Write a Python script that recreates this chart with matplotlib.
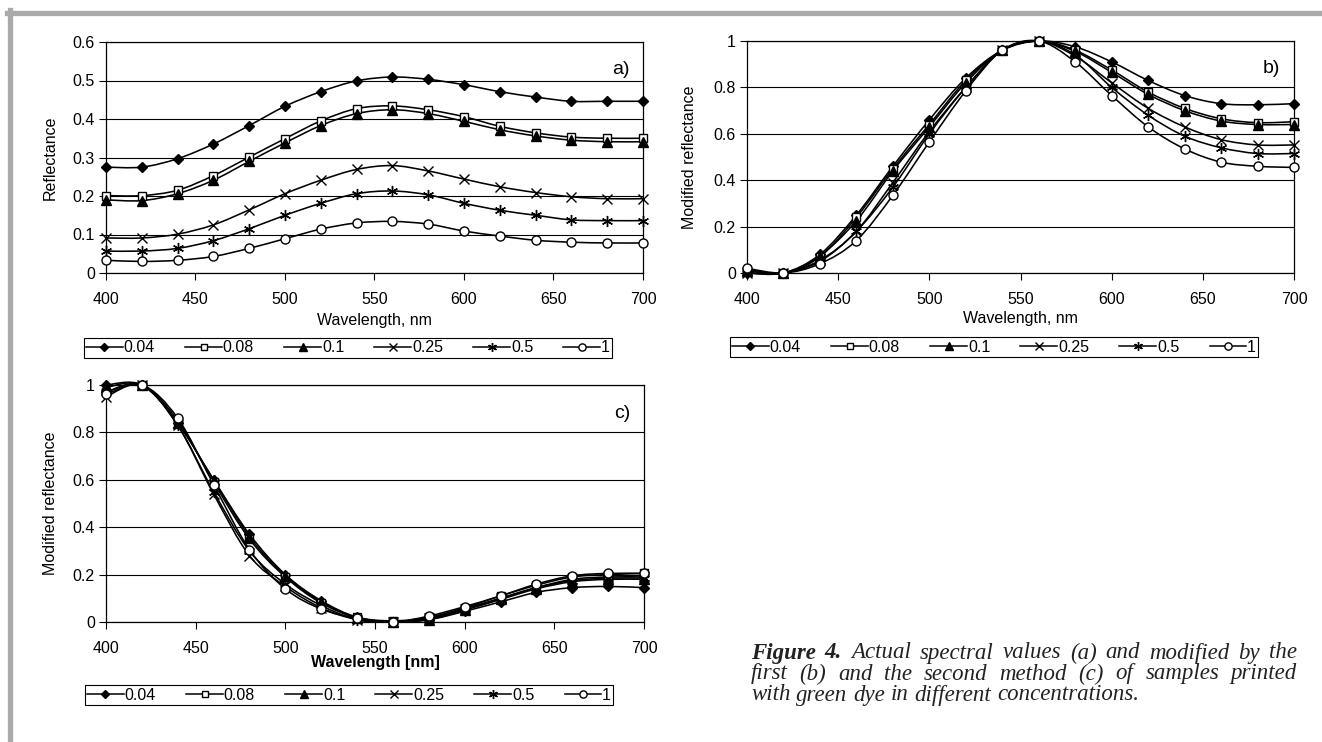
import matplotlib
matplotlib.use("Agg")
import matplotlib.pyplot as plt
from matplotlib.path import Path
from matplotlib.patches import PathPatch
from matplotlib.lines import Line2D
import numpy as np

plt.rcParams['font.family'] = ['Liberation Sans', 'DejaVu Sans']

# ---------------- data ----------------
wavelength = [400, 420, 440, 460, 480, 500, 520, 540, 560, 580, 600, 620, 640, 660, 680, 700]
concentrations = ['0.04', '0.08', '0.1', '0.25', '0.5', '1']

# (a) actual reflectance
a_004 = [0.275, 0.275, 0.297, 0.335, 0.383, 0.433, 0.471, 0.499, 0.509, 0.503, 0.489, 0.471, 0.457, 0.446, 0.446, 0.446]
a_008 = [0.201, 0.201, 0.215, 0.253, 0.301, 0.349, 0.395, 0.427, 0.434, 0.424, 0.406, 0.381, 0.364, 0.353, 0.350, 0.350]
a_01  = [0.190, 0.188, 0.206, 0.241, 0.290, 0.338, 0.383, 0.414, 0.424, 0.414, 0.394, 0.372, 0.356, 0.345, 0.341, 0.341]
a_025 = [0.091, 0.091, 0.101, 0.125, 0.164, 0.206, 0.241, 0.269, 0.279, 0.265, 0.244, 0.224, 0.209, 0.198, 0.193, 0.193]
a_05  = [0.057, 0.057, 0.064, 0.084, 0.115, 0.150, 0.181, 0.206, 0.213, 0.203, 0.181, 0.163, 0.150, 0.138, 0.136, 0.136]
a_1   = [0.033, 0.030, 0.033, 0.043, 0.064, 0.089, 0.114, 0.130, 0.134, 0.127, 0.109, 0.096, 0.085, 0.080, 0.078, 0.078]

# (b) modified reflectance, first method
b_004 = [0.00, 0.00, 0.080, 0.250, 0.460, 0.660, 0.840, 0.960, 1.00, 0.975, 0.910, 0.830, 0.765, 0.730, 0.725, 0.730]
b_008 = [0.015, 0.00, 0.070, 0.240, 0.450, 0.640, 0.830, 0.960, 1.00, 0.960, 0.875, 0.780, 0.710, 0.665, 0.648, 0.652]
b_01  = [0.010, 0.00, 0.075, 0.225, 0.440, 0.630, 0.820, 0.960, 1.00, 0.955, 0.865, 0.770, 0.700, 0.655, 0.640, 0.640]
b_025 = [0.00, 0.00, 0.055, 0.180, 0.390, 0.610, 0.800, 0.960, 1.00, 0.935, 0.820, 0.710, 0.630, 0.575, 0.552, 0.552]
b_05  = [0.00, 0.00, 0.050, 0.180, 0.370, 0.600, 0.800, 0.960, 1.00, 0.940, 0.800, 0.680, 0.590, 0.540, 0.515, 0.515]
b_1   = [0.020, 0.00, 0.040, 0.140, 0.335, 0.565, 0.785, 0.960, 1.00, 0.910, 0.765, 0.630, 0.535, 0.478, 0.460, 0.455]

# (c) modified reflectance, second method
c_004 = [1.00, 1.00, 0.840, 0.600, 0.370, 0.200, 0.090, 0.020, 0.000, 0.010, 0.045, 0.085, 0.125, 0.145, 0.150, 0.145]
c_008 = [0.970, 1.00, 0.850, 0.590, 0.350, 0.190, 0.080, 0.020, 0.005, 0.020, 0.060, 0.110, 0.155, 0.190, 0.200, 0.205]
c_01  = [0.990, 1.00, 0.840, 0.600, 0.360, 0.195, 0.085, 0.015, 0.000, 0.010, 0.050, 0.095, 0.140, 0.170, 0.180, 0.180]
c_025 = [0.950, 1.00, 0.830, 0.540, 0.280, 0.150, 0.060, 0.010, 0.000, 0.015, 0.055, 0.100, 0.145, 0.180, 0.190, 0.190]
c_05  = [0.970, 1.00, 0.830, 0.550, 0.300, 0.160, 0.070, 0.010, 0.000, 0.015, 0.055, 0.100, 0.145, 0.175, 0.185, 0.185]
c_1   = [0.960, 1.00, 0.860, 0.580, 0.305, 0.140, 0.055, 0.015, 0.000, 0.025, 0.065, 0.110, 0.160, 0.195, 0.205, 0.205]

series_a = [a_004, a_008, a_01, a_025, a_05, a_1]
series_b = [b_004, b_008, b_01, b_025, b_05, b_1]
series_c = [c_004, c_008, c_01, c_025, c_05, c_1]

xticks = [400, 450, 500, 550, 600, 650, 700]
yticks_a = [0, 0.1, 0.2, 0.3, 0.4, 0.5, 0.6]
yticks_a_labels = ['0', '0.1', '0.2', '0.3', '0.4', '0.5', '0.6']
yticks_bc = [0, 0.2, 0.4, 0.6, 0.8, 1.0]
yticks_bc_labels = ['0', '0.2', '0.4', '0.6', '0.8', '1']

# ---------------- styles ----------------
marker_styles = [
    dict(marker='D', mfc='black', ms=5.5),
    dict(marker='s', mfc='white', ms=5.5),
    dict(marker='^', mfc='black', ms=6.5),
    dict(marker='x', mfc='black', ms=6.5),
    dict(marker=(6, 2, 0), mfc='black', ms=8.0),
    dict(marker='o', mfc='white', ms=6.5),
]

W, H = 1322, 742
fig = plt.figure(figsize=(W / 100, H / 100), dpi=100)
fig.patch.set_facecolor('white')


def fx(px):
    return px / W


def fy(py):
    return 1 - py / H


def smooth_path(x, y):
    pts = np.column_stack([x, y]).astype(float)
    n = len(pts)
    verts = [pts[0]]
    codes = [Path.MOVETO]
    for i in range(n - 1):
        p0 = pts[i - 1] if i > 0 else pts[i]
        p1 = pts[i]
        p2 = pts[i + 1]
        p3 = pts[i + 2] if i + 2 < n else pts[i + 1]
        c1 = p1 + (p2 - p0) / 6.0
        c2 = p2 - (p3 - p1) / 6.0
        verts += [c1, c2, p2]
        codes += [Path.CURVE4] * 3
    return Path(verts, codes)


TICK_FS = 11.5


def make_panel(rect_px, series, yticks, ylabels, ymax, ylabel, xlabel, xlabel_bold, tag):
    left, top, right, bottom = rect_px
    ax = fig.add_axes([fx(left), fy(bottom), (right - left) / W, (bottom - top) / H])
    ax.set_xlim(400, 700)
    ax.set_ylim(0, ymax)
    ax.set_xticks(xticks)
    ax.set_xticklabels([str(t) for t in xticks], fontsize=TICK_FS)
    ax.set_yticks(yticks)
    ax.set_yticklabels(ylabels, fontsize=TICK_FS)
    ax.tick_params(axis='x', direction='out', length=5, width=0.8, pad=9)
    ax.tick_params(axis='y', direction='out', length=5, width=0.8, pad=3)
    for s in ax.spines.values():
        s.set_linewidth(0.9)
        s.set_color('black')
    ax.yaxis.grid(True, color='black', linewidth=0.8)
    ax.set_axisbelow(True)
    for ys, st in zip(series, marker_styles):
        patch = PathPatch(smooth_path(wavelength, ys), fill=False, edgecolor='black',
                          linewidth=1.15, clip_on=False, zorder=3)
        ax.add_patch(patch)
        ax.plot(wavelength, ys, linestyle='none', color='black', mec='black', mew=1.0,
                clip_on=False, zorder=4, **st)
    ax.set_xlabel(xlabel, fontsize=TICK_FS, fontweight='bold' if xlabel_bold else 'normal')
    ax.set_ylabel(ylabel, fontsize=TICK_FS)
    ax.text(0.975, 0.88, tag, transform=ax.transAxes, fontsize=14, ha='right', va='center')
    return ax


rects = [(106, 42, 643, 273), (747, 41, 1294, 273), (106, 385, 644, 622)]
ax_a = make_panel(rects[0], series_a, yticks_a, yticks_a_labels, 0.6,
                  'Reflectance', 'Wavelength, nm', False, 'a)')
ax_b = make_panel(rects[1], series_b, yticks_bc, yticks_bc_labels, 1.0,
                  'Modified reflectance', 'Wavelength, nm', False, 'b)')
ax_c = make_panel(rects[2], series_c, yticks_bc, yticks_bc_labels, 1.0,
                  'Modified reflectance', 'Wavelength [nm]', True, 'c)')

# axis label positions (pixel based)
for ax, (left, top, right, bottom), xl_y, yl_x in [
        (ax_a, rects[0], 320, 50),
        (ax_b, rects[1], 318, 690),
        (ax_c, rects[2], 663, 50)]:
    ax.xaxis.label.set_va('center')
    ax.xaxis.set_label_coords(0.5, (bottom - xl_y) / (bottom - top))
    ax.yaxis.label.set_va('center')
    ax.yaxis.set_label_coords((yl_x - left) / (right - left), 0.5)

# legends (legend markers are drawn smaller, as in the original)
leg_styles = []
for st in marker_styles:
    d = dict(st)
    d['ms'] = st['ms'] * 0.8
    leg_styles.append(d)
handles = [Line2D([], [], color='black', lw=1.1, mec='black', mew=1.0, **st) for st in leg_styles]
for cx, cy in [(348, 348), (994, 347), (349, 695)]:
    leg = fig.legend(handles, concentrations, loc='center', bbox_to_anchor=(fx(cx), fy(cy)),
                     ncol=6, frameon=True, fancybox=False, edgecolor='black', framealpha=1,
                     fontsize=TICK_FS, handlelength=2.3, handletextpad=0.05, columnspacing=1.9,
                     borderpad=0.15, borderaxespad=0)
    leg.get_frame().set_linewidth(0.8)

# grey page border
fig.add_artist(Line2D([fx(7), fx(W)], [fy(12.5), fy(12.5)], color='#a9a9a9', lw=3.8,
                      transform=fig.transFigure))
fig.add_artist(Line2D([fx(9.5), fx(9.5)], [fy(10), fy(H)], color='#a9a9a9', lw=3.8,
                      transform=fig.transFigure))

# caption (justified)
cap_lines = [
    [("Figure", 'bold'), ("4.", 'bold'), ("Actual", 'normal'), ("spectral", 'normal'), ("values", 'normal'),
     ("(a)", 'normal'), ("and", 'normal'), ("modified", 'normal'), ("by", 'normal'), ("the", 'normal')],
    [("first", 'normal'), ("(b)", 'normal'), ("and", 'normal'), ("the", 'normal'), ("second", 'normal'),
     ("method", 'normal'), ("(c)", 'normal'), ("of", 'normal'), ("samples", 'normal'), ("printed", 'normal')],
    [("with", 'normal'), ("green", 'normal'), ("dye", 'normal'), ("in", 'normal'), ("different", 'normal'),
     ("concentrations.", 'normal')],
]
cap_y = [653, 674, 695]
cap_x0, cap_x1 = 751, 1297
CAP_FS = 16.5
renderer = fig.canvas.get_renderer()
cap_font = ['Liberation Serif', 'DejaVu Serif']
for li, (words, yy) in enumerate(zip(cap_lines, cap_y)):
    txts = []
    widths = []
    for w, wt in words:
        t = fig.text(0, fy(yy), w, fontsize=CAP_FS, family=cap_font, style='italic', fontweight=wt,
                     ha='left', va='center', color='#222222')
        bb = t.get_window_extent(renderer=renderer)
        txts.append(t)
        widths.append(bb.width)
    space_t = fig.text(0, 0, 'a b', fontsize=CAP_FS, family=cap_font, style='italic')
    ab = fig.text(0, 0, 'ab', fontsize=CAP_FS, family=cap_font, style='italic')
    sp = space_t.get_window_extent(renderer=renderer).width - ab.get_window_extent(renderer=renderer).width
    space_t.remove()
    ab.remove()
    if li < len(cap_lines) - 1:
        gap = ((cap_x1 - cap_x0) - sum(widths)) / (len(words) - 1)
    else:
        gap = sp
    x = cap_x0
    for t, wdt in zip(txts, widths):
        t.set_x(fx(x))
        x += wdt + gap

fig.savefig('out.png', dpi=100, facecolor='white')
